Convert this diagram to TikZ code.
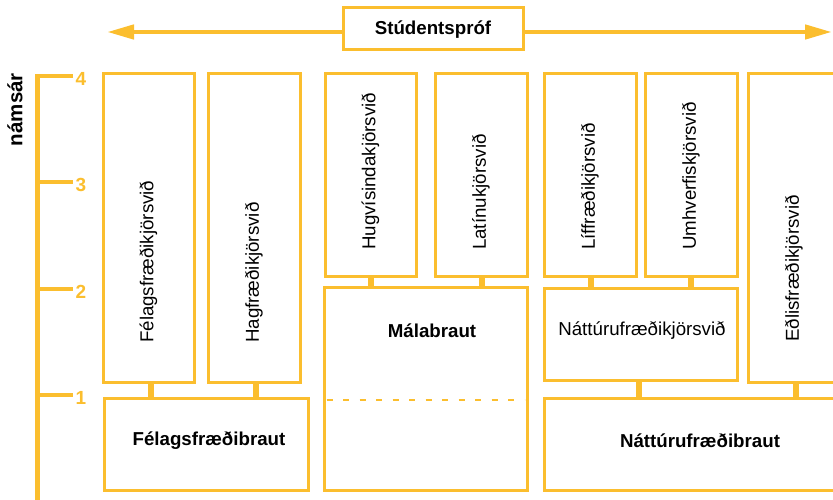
\documentclass[tikz,border=0pt]{standalone}
\usepackage{fontspec}
\setmainfont{Liberation Sans}
\usetikzlibrary{arrows.meta}
\definecolor{gold}{RGB}{251,190,46}
\tikzset{
  box/.style={draw=gold, line width=3pt, fill=white, inner sep=0pt},
  stub/.style={draw=gold, line width=6pt},
  lbl/.style={font=\fontsize{18.7}{22}\selectfont, inner sep=0pt, text=black},
  blbl/.style={font=\fontsize{18.7}{22}\selectfont\bfseries, inner sep=0pt, text=black},
  vlbl/.style={lbl, rotate=90, anchor=west},
  num/.style={font=\fontsize{19}{22}\selectfont\bfseries, text=gold, inner sep=0pt},
  axisline/.style={draw=gold, line width=4.5pt},
  dashline/.style={draw=gold, line width=2pt, dash pattern=on 6pt off 10.5pt},
}
\begin{document}
\begin{tikzpicture}[x=1pt,y=-1pt]
\useasboundingbox (0,0) rectangle (833,500);
\begin{scope}
\clip (0,0) rectangle (833,500);
% top arrow
\coordinate (al) at (107,32);
\coordinate (ar) at (832,32);
\draw[draw=gold, line width=4.5pt, {Triangle[length=27pt,width=14pt]}-{Triangle[length=27pt,width=14pt]}, color=gold] (al) -- (ar);
\node[box, minimum width=180pt, minimum height=42pt] (sp) at (433,29) {};
\node[blbl] (spt) at (433,30) {Stúdentspróf};

% axis
\draw[axisline, line join=miter] (73,76) -- (37.5,76) -- (37.5,510);
\draw[axisline] (37.5,182) -- (73,182);
\draw[axisline] (37.5,289) -- (73,289);
\draw[axisline] (37.5,395) -- (73,395);
\node[num] (n4) at (81,79) {4};
\node[num] (n3) at (81,185) {3};
\node[num] (n2) at (81,292) {2};
\node[num] (n1) at (81,398) {1};
\node[font=\fontsize{20.5}{24}\selectfont\bfseries, inner sep=0pt, rotate=90, anchor=east] (ns) at (15,73) {námsár};

% boxes
\node[box, minimum width=91pt, minimum height=308pt] (fk) at (148.5,228) {};
\node[box, minimum width=92pt, minimum height=308pt] (hk) at (254,228) {};
\node[box, minimum width=91pt, minimum height=202pt] (hv) at (370.5,175) {};
\node[box, minimum width=92pt, minimum height=202pt] (lt) at (481,175) {};
\node[box, minimum width=92pt, minimum height=202pt] (lf) at (590,175) {};
\node[box, minimum width=92pt, minimum height=202pt] (um) at (691,175) {};
\node[box, minimum width=92pt, minimum height=308pt] (ed) at (794,228) {};
\node[box, minimum width=204pt, minimum height=92pt] (fb) at (206,444) {};
\node[box, minimum width=203pt, minimum height=203pt] (mb) at (425.5,388.5) {};
\node[box, minimum width=193pt, minimum height=92pt] (nk) at (640.5,334) {};
\node[box, minimum width=312pt, minimum height=92pt] (nb) at (700,444) {};

% stubs
\draw[stub] ([xshift=2.5pt]fk.south) -- ([xshift=2.5pt]fk.south |- fb.north);
\draw[stub] ([xshift=2pt]hk.south) -- ([xshift=2pt]hk.south |- fb.north);
\draw[stub] (hv.south) -- (hv.south |- mb.north);
\draw[stub] ([xshift=1pt]lt.south) -- ([xshift=1pt]lt.south |- mb.north);
\draw[stub] ([xshift=1pt]lf.south) -- ([xshift=1pt]lf.south |- nk.north);
\draw[stub] (um.south) -- (um.south |- nk.north);
\draw[stub] ([xshift=-1.5pt]nk.south) -- ([xshift=-1.5pt]nk.south |- nb.north);
\draw[stub] ([xshift=2pt]ed.south) -- ([xshift=2pt]ed.south |- nb.north);

% dashed line in Málabraut
\draw[dashline] ([shift={(4pt,-11.5pt)}]mb.west) -- ([shift={(-4pt,-11.5pt)}]mb.east);

% labels
\node[vlbl] (fkt) at (148.5,343) {Félagsfræðikjörsvið};
\node[vlbl] (hkt) at (254,343) {Hagfræðikjörsvið};
\node[vlbl] (hvt) at (370.5,250) {Hugvísindakjörsvið};
\node[vlbl] (ltt) at (481,250) {Latínukjörsvið};
\node[vlbl] (lft) at (590,250) {Líffræðikjörsvið};
\node[vlbl] (umt) at (691,250) {Umhverfiskjörsvið};
\node[vlbl] (edt) at (794,342) {Eðlisfræðikjörsvið};
\node[blbl] (fbt) at (209,441) {Félagsfræðibraut};
\node[blbl] (mbt) at (432,331) {Málabraut};
\node[lbl] (nkt) at (642,331) {Náttúrufræðikjörsvið};
\node[blbl] (nbt) at (700,441) {Náttúrufræðibraut};
\end{scope}
\end{tikzpicture}
\end{document}
